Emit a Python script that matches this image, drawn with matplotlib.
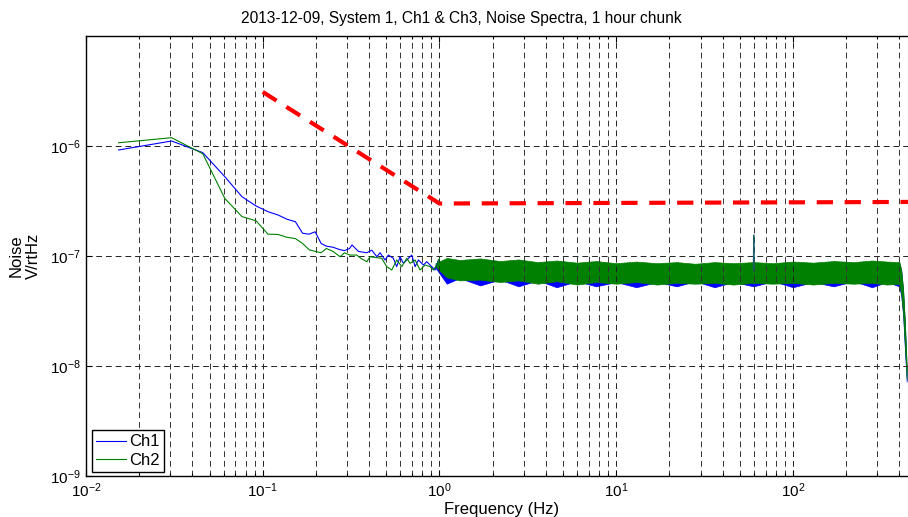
import matplotlib
matplotlib.use('Agg')
import matplotlib.pyplot as plt
import numpy as np
from matplotlib.ticker import FixedLocator, FuncFormatter, NullLocator, NullFormatter

plt.rcParams['font.family'] = ['Liberation Sans', 'DejaVu Sans']
plt.rcParams['font.size'] = 11

# low frequency part, explicit points (x 1e-7 V/rtHz)
ch1_f = [0.0153, 0.0305, 0.0458, 0.0610, 0.0763, 0.0916, 0.107, 0.122, 0.137, 0.153,
         0.168, 0.183, 0.198, 0.214, 0.229, 0.25, 0.274, 0.29, 0.31, 0.32, 0.348,
         0.388, 0.414, 0.442, 0.461, 0.492, 0.514, 0.548, 0.573, 0.598, 0.625, 0.653,
         0.697, 0.728, 0.760, 0.811, 0.847, 0.904, 0.944, 0.986]
ch1_v = [9.2, 11.1, 8.7, 5.26, 3.46, 2.85, 2.53, 2.36, 2.16, 2.05,
         1.61, 1.58, 1.66, 1.30, 1.23, 1.20, 1.14, 1.12, 1.17, 1.26, 1.10,
         1.07, 1.13, 0.986, 1.07, 0.92, 1.02, 0.953, 0.80, 0.986, 0.857, 0.92,
         1.02, 0.80, 0.92, 0.828, 0.888, 0.80, 0.746, 0.92]
ch2_f = [0.0153, 0.0305, 0.0458, 0.0610, 0.0763, 0.0916, 0.107, 0.122, 0.137, 0.153,
         0.168, 0.183, 0.198, 0.214, 0.229, 0.25, 0.274, 0.29, 0.31, 0.34, 0.36,
         0.388, 0.405, 0.432, 0.471, 0.503, 0.537, 0.573, 0.612, 0.653, 0.682, 0.728,
         0.776, 0.829, 0.885, 0.924, 0.966, 1.0]
ch2_v = [10.7, 11.9, 8.5, 3.34, 2.28, 2.09, 1.58, 1.57, 1.48, 1.44,
         1.30, 1.14, 1.10, 1.07, 1.17, 1.10, 0.985, 1.07, 1.02, 1.02, 0.95,
         0.888, 0.986, 0.97, 0.953, 0.80, 0.746, 0.92, 0.80, 0.953, 0.857, 0.92,
         0.746, 0.828, 0.80, 0.746, 0.828, 0.953]

# dense part above 1 Hz, read as upper / lower envelope (x 1e-7 V/rtHz)
band_f = [0.95, 1.1, 1.3, 1.7, 2.2, 2.8, 3.6, 4.6, 6, 7.7, 10, 13, 17, 22, 28, 36, 46, 60,
          77, 100, 130, 170, 220, 280, 340, 400, 410, 420, 430, 440]
ch1_hi = [0.84, 0.93, 0.90, 0.93, 0.88, 0.90, 0.86, 0.88, 0.85, 0.87, 0.84, 0.86, 0.84, 0.85,
          0.83, 0.85, 0.84, 0.85, 0.84, 0.86, 0.85, 0.87, 0.86, 0.88, 0.87, 0.86,
          0.73, 0.48, 0.24, 0.095]
ch1_lo = [0.78, 0.56, 0.63, 0.54, 0.61, 0.53, 0.60, 0.52, 0.59, 0.53, 0.58, 0.52, 0.58, 0.53,
          0.59, 0.52, 0.58, 0.53, 0.59, 0.52, 0.58, 0.53, 0.59, 0.52, 0.58, 0.53,
          0.43, 0.29, 0.14, 0.072]
ch2_hi = [0.86, 0.96, 0.92, 0.95, 0.90, 0.93, 0.88, 0.91, 0.87, 0.90, 0.86, 0.89, 0.86, 0.88,
          0.85, 0.88, 0.86, 0.88, 0.86, 0.89, 0.87, 0.90, 0.88, 0.91, 0.89, 0.88,
          0.75, 0.50, 0.25, 0.10]
ch2_lo = [0.80, 0.64, 0.60, 0.61, 0.58, 0.60, 0.56, 0.59, 0.55, 0.58, 0.56, 0.58, 0.55, 0.57,
          0.56, 0.57, 0.55, 0.57, 0.56, 0.57, 0.55, 0.57, 0.56, 0.57, 0.55, 0.56,
          0.45, 0.30, 0.15, 0.075]

# 60 Hz line
spike_f = [59.7, 60.0, 60.3]
spike_v = [0.75, 1.55, 0.75]

# requirement line
req_f = [0.1, 1.0, 450]
req_v = [3.1e-6, 3.0e-7, 3.1e-7]

# axis ticks
xticks = [0.01, 0.1, 1, 10, 100]
yticks = [1e-9, 1e-8, 1e-7, 1e-6]
xminor = [m * d for d in [0.01, 0.1, 1, 10, 100] for m in range(2, 10) if m * d < 500]

blue = '#0000ff'
green = '#008000'

fig = plt.figure(figsize=(9.08, 5.17), dpi=100)
ax = fig.add_axes([86 / 908, 41 / 517, 830.5 / 908, 440 / 517])

e7 = 1e-7
ax.fill_between(band_f, np.array(ch1_lo) * e7, np.array(ch1_hi) * e7, color=blue, lw=0.5)
ax.plot(ch1_f, np.array(ch1_v) * e7, color=blue, lw=0.8, label='Ch1')
ax.fill_between(band_f, np.array(ch2_lo) * e7, np.array(ch2_hi) * e7, color=green, lw=0.5)
ax.plot(ch2_f, np.array(ch2_v) * e7, color=green, lw=0.8, label='Ch2')
ax.plot(spike_f, np.array(spike_v) * e7, color='#1a5f6a', lw=0.9)
ax.plot(req_f, req_v, color='red', lw=3, dashes=(3.9, 2.8))

ax.set_xscale('log')
ax.set_yscale('log')
ax.set_xlim(0.01, 500)
ax.set_ylim(1e-9, 1e-5)

ax.xaxis.set_major_locator(FixedLocator(xticks))
ax.xaxis.set_minor_locator(FixedLocator(xminor))
ax.yaxis.set_major_locator(FixedLocator(yticks))
ax.yaxis.set_minor_locator(NullLocator())

fmt = FuncFormatter(lambda v, p: r'$\mathregular{10^{%d}}$' % int(round(np.log10(v))))
ax.xaxis.set_major_formatter(fmt)
ax.yaxis.set_major_formatter(fmt)
ax.xaxis.set_minor_formatter(NullFormatter())

ax.grid(True, which='major', color='#222222', lw=0.7, dashes=(6, 4))
ax.grid(True, which='minor', axis='x', color='#333333', lw=0.7, dashes=(6, 4))
ax.tick_params(which='both', direction='in', top=True, right=True, width=0.8)
ax.tick_params(which='major', length=4, pad=4)
ax.tick_params(which='minor', length=2.5)
for s in ax.spines.values():
    s.set_linewidth(1.0)

ax.set_xlabel('Frequency (Hz)', labelpad=1, fontsize=12)
fig.text(25 / 908, 1 - 256 / 517, 'Noise\nV/rtHz', rotation=90, ha='center', va='center',
         multialignment='center', fontsize=12)
fig.text(461.5 / 908, 1 - 19 / 517, '2013-12-09, System 1, Ch1 & Ch3, Noise Spectra, 1 hour chunk',
         ha='center', va='center', fontsize=11.2)

leg = ax.legend(loc='lower left', bbox_to_anchor=(6 / 830.5, 4 / 440), borderaxespad=0,
                fancybox=False, edgecolor='black', framealpha=1, handlelength=1.8,
                handletextpad=0.2, labelspacing=0.2, borderpad=0.25, fontsize=12)
leg.get_frame().set_linewidth(1.0)

fig.savefig('out.png', dpi=100)
